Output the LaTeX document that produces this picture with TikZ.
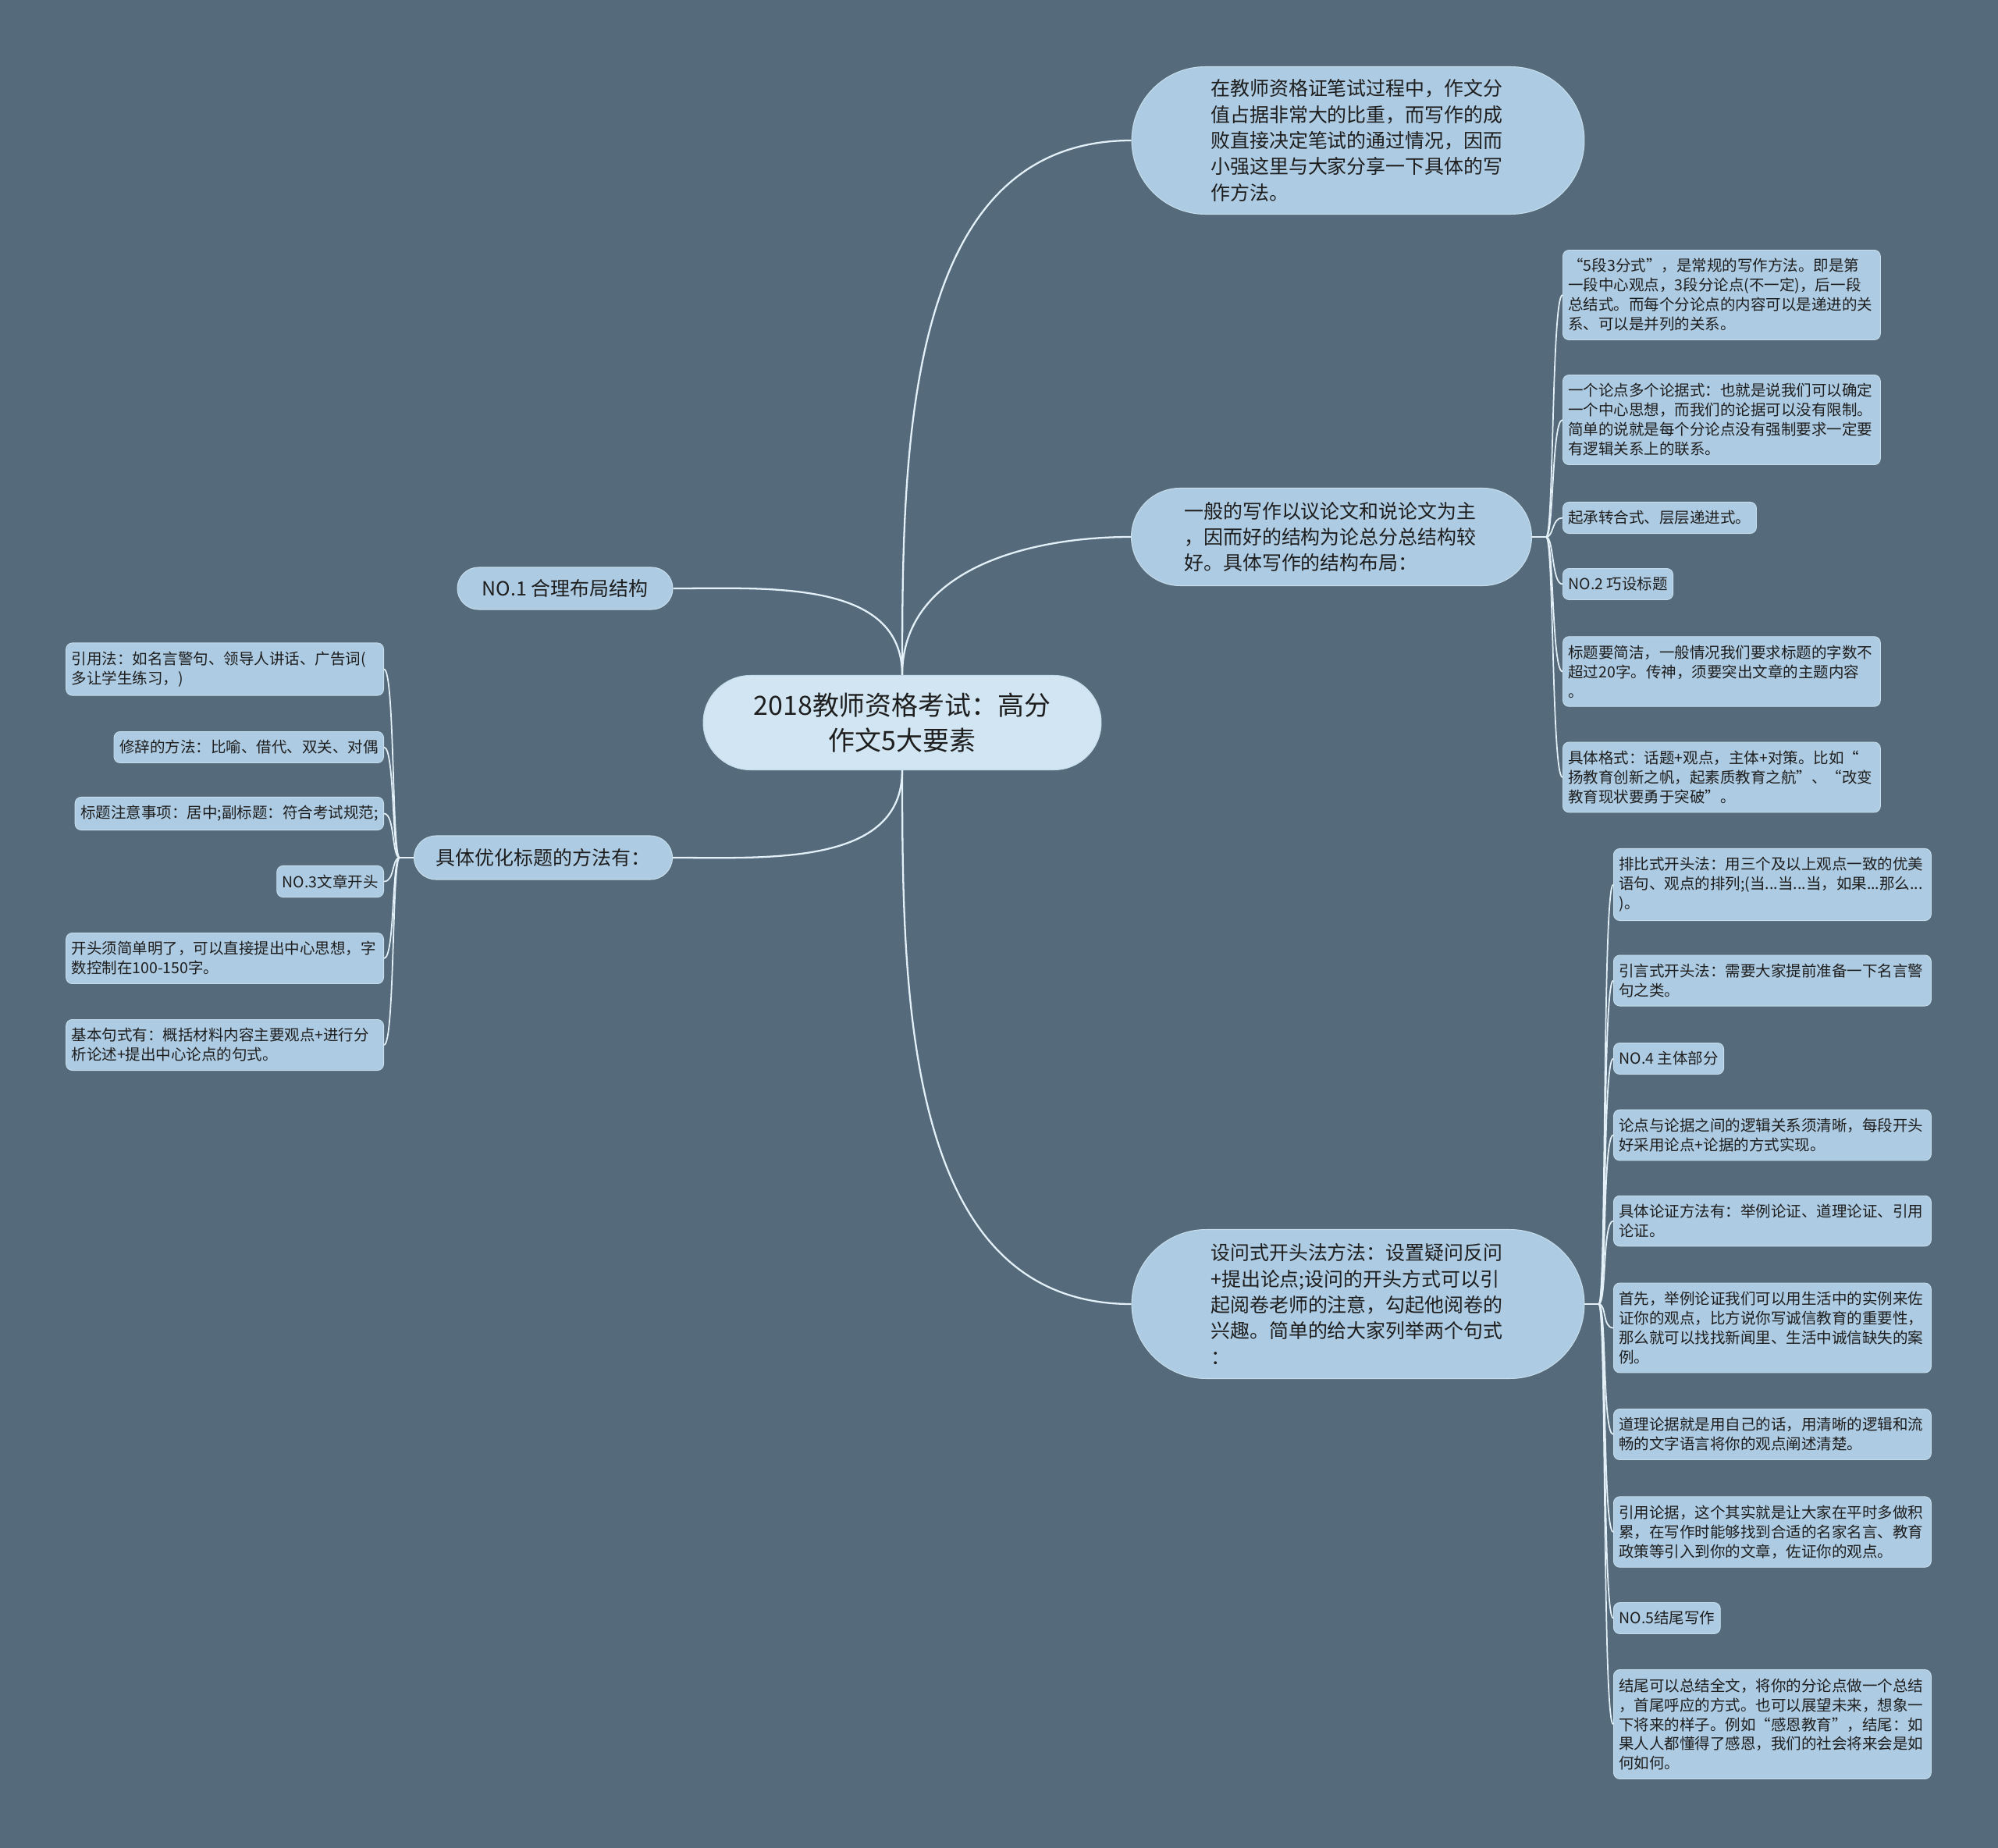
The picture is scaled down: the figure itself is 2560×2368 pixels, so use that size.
\documentclass[tikz,border=0pt]{standalone}
\usepackage{fontspec}
\setmainfont{Noto Sans CJK SC}
\usepackage{tikz}
\usetikzlibrary{shapes.misc}
\definecolor{slate}    {HTML}{556B7B}
\definecolor{rootfill} {HTML}{D1E6F2}
\definecolor{topicfill}{HTML}{ADCBE2}
\definecolor{rim}      {HTML}{C6DDEC}
\definecolor{wire}     {HTML}{E3F0F8}
\definecolor{ink}      {HTML}{1E1E1E}
\tikzset{
  rootbox/.style  ={rounded rectangle, draw=rim, fill=rootfill, line width=0.6pt,
                    text=ink, align=center, inner xsep=0pt,
                    font=\fontsize{19.3pt}{25.9pt}\selectfont,
                    minimum width=10.2cm, minimum height=2.42cm},
  topicbox/.style ={rounded rectangle, draw=rim, fill=topicfill, line width=0.6pt,
                    text=ink, inner xsep=0pt,
                    font=\fontsize{14.2pt}{19pt}\selectfont},
  leafbox/.style  ={draw=rim, fill=topicfill, line width=0.5pt, rounded corners=0.16cm,
                    text=ink, inner xsep=0.14cm, inner ysep=0.22cm,
                    font=\fontsize{11.1pt}{14.2pt}\selectfont},
  wideleaf/.style ={leafbox, text width=7.86cm, align=left},
  branch/.style   ={draw=wire, line width=1.3pt},
  twig/.style     ={draw=wire, line width=1pt},
}
\begin{document}
\begin{tikzpicture}[x=0.02cm,y=0.02cm]
    \useasboundingbox (0,0) rectangle (2560,-2368);
    \fill[slate] (0,0) rectangle (2560,-2368);

    \node[rootbox] (root) at (1156,-926)
      {2018教师资格考试：高分\\作文5大要素};

    \node[topicbox, text width=7.55cm, align=left,
          minimum width=11.6cm, minimum height=3.78cm] (intro) at (1740,-180)
      {在教师资格证笔试过程中，作文分\\值占据非常大的比重，而写作的成\\败直接决定笔试的通过情况，因而\\小强这里与大家分享一下具体的写\\作方法。};
    \node[topicbox, text width=7.55cm, align=left,
          minimum width=10.26cm, minimum height=2.5cm] (layout) at (1706,-688)
      {一般的写作以议论文和说论文为主\\，因而好的结构为论总分总结构较\\好。具体写作的结构布局：};
    \node[topicbox, text width=7.55cm, align=left,
          minimum width=11.6cm, minimum height=3.82cm] (opening) at (1740,-1671)
      {设问式开头法方法：设置疑问反问\\+提出论点;设问的开头方式可以引\\起阅卷老师的注意，勾起他阅卷的\\兴趣。简单的给大家列举两个句式\\：};
    \node[topicbox, minimum width=5.52cm, minimum height=1.08cm] (structure) at (724,-754)
      {NO.1 合理布局结构};
    \node[topicbox, minimum width=6.62cm, minimum height=1.12cm] (titling) at (696,-1099)
      {具体优化标题的方法有：};

    \node[wideleaf, anchor=west] (lay1) at (2002,-378)
      {“5段3分式”，是常规的写作方法。即是第\\一段中心观点，3段分论点(不一定)，后一段\\总结式。而每个分论点的内容可以是递进的关\\系、可以是并列的关系。};
    \node[wideleaf, anchor=west] (lay2) at (2002,-538)
      {一个论点多个论据式：也就是说我们可以确定\\一个中心思想，而我们的论据可以没有限制。\\简单的说就是每个分论点没有强制要求一定要\\有逻辑关系上的联系。};
    \node[leafbox, anchor=west] (lay3) at (2002,-663.5)
      {起承转合式、层层递进式。};
    \node[leafbox, anchor=west] (lay4) at (2002,-748.5)
      {NO.2 巧设标题};
    \node[wideleaf, anchor=west] (lay5) at (2002,-860.5)
      {标题要简洁，一般情况我们要求标题的字数不\\超过20字。传神，须要突出文章的主题内容\\。};
    \node[wideleaf, anchor=west] (lay6) at (2002,-996)
      {具体格式：话题+观点，主体+对策。比如“\\扬教育创新之帆，起素质教育之航”、“改变\\教育现状要勇于突破”。};

    \node[wideleaf, anchor=west] (open1) at (2067,-1133.5)
      {排比式开头法：用三个及以上观点一致的优美\\语句、观点的排列;(当...当...当，如果...那么...\\)。};
    \node[wideleaf, anchor=west] (open2) at (2067,-1256.5)
      {引言式开头法：需要大家提前准备一下名言警\\句之类。};
    \node[leafbox, anchor=west] (open3) at (2067,-1356.5)
      {NO.4 主体部分};
    \node[wideleaf, anchor=west] (open4) at (2067,-1454.5)
      {论点与论据之间的逻辑关系须清晰，每段开头\\好采用论点+论据的方式实现。};
    \node[wideleaf, anchor=west] (open5) at (2067,-1564.5)
      {具体论证方法有：举例论证、道理论证、引用\\论证。};
    \node[wideleaf, anchor=west] (open6) at (2067,-1701.5)
      {首先，举例论证我们可以用生活中的实例来佐\\证你的观点，比方说你写诚信教育的重要性，\\那么就可以找找新闻里、生活中诚信缺失的案\\例。};
    \node[wideleaf, anchor=west] (open7) at (2067,-1838)
      {道理论据就是用自己的话，用清晰的逻辑和流\\畅的文字语言将你的观点阐述清楚。};
    \node[wideleaf, anchor=west] (open8) at (2067,-1963)
      {引用论据，这个其实就是让大家在平时多做积\\累，在写作时能够找到合适的名家名言、教育\\政策等引入到你的文章，佐证你的观点。};
    \node[leafbox, anchor=west] (open9) at (2067,-2073.5)
      {NO.5结尾写作};
    \node[wideleaf, anchor=west] (open10) at (2067,-2209.5)
      {结尾可以总结全文，将你的分论点做一个总结\\，首尾呼应的方式。也可以展望未来，想象一\\下将来的样子。例如“感恩教育”，结尾：如\\果人人都懂得了感恩，我们的社会将来会是如\\何如何。};

    \node[wideleaf, anchor=east] (tit1) at (492,-857.5)
      {引用法：如名言警句、领导人讲话、广告词(\\多让学生练习，)};
    \node[leafbox, anchor=east] (tit2) at (492,-957.5)
      {修辞的方法：比喻、借代、双关、对偶};
    \node[leafbox, anchor=east] (tit3) at (492,-1042.5)
      {标题注意事项：居中;副标题：符合考试规范;};
    \node[leafbox, anchor=east] (tit4) at (492,-1129.5)
      {NO.3文章开头};
    \node[wideleaf, anchor=east] (tit5) at (492,-1228)
      {开头须简单明了，可以直接提出中心思想，字\\数控制在100-150字。};
    \node[wideleaf, anchor=east] (tit6) at (492,-1339)
      {基本句式有：概括材料内容主要观点+进行分\\析论述+提出中心论点的句式。};

    \draw[branch] (root.north) to[out=90,in=180] (intro.west);
    \draw[branch] (root.north) to[out=90,in=180] (layout.west);
    \draw[branch] (root.north) to[out=90,in=0] (structure.east);
    \draw[branch] (root.south) to[out=-90,in=180] (opening.west);
    \draw[branch] (root.south) to[out=-90,in=0] (titling.east);

    \draw[twig] (layout.east) -- ++(18,0) .. controls +(10,0) and +(-14,0) .. (lay1.west);
    \draw[twig] (layout.east) -- ++(18,0) .. controls +(10,0) and +(-14,0) .. (lay2.west);
    \draw[twig] (layout.east) -- ++(18,0) .. controls +(10,0) and +(-14,0) .. (lay3.west);
    \draw[twig] (layout.east) -- ++(18,0) .. controls +(10,0) and +(-14,0) .. (lay4.west);
    \draw[twig] (layout.east) -- ++(18,0) .. controls +(10,0) and +(-14,0) .. (lay5.west);
    \draw[twig] (layout.east) -- ++(18,0) .. controls +(10,0) and +(-14,0) .. (lay6.west);

    \draw[twig] (opening.east) -- ++(18,0) .. controls +(10,0) and +(-14,0) .. (open1.west);
    \draw[twig] (opening.east) -- ++(18,0) .. controls +(10,0) and +(-14,0) .. (open2.west);
    \draw[twig] (opening.east) -- ++(18,0) .. controls +(10,0) and +(-14,0) .. (open3.west);
    \draw[twig] (opening.east) -- ++(18,0) .. controls +(10,0) and +(-14,0) .. (open4.west);
    \draw[twig] (opening.east) -- ++(18,0) .. controls +(10,0) and +(-14,0) .. (open5.west);
    \draw[twig] (opening.east) -- ++(18,0) .. controls +(10,0) and +(-14,0) .. (open6.west);
    \draw[twig] (opening.east) -- ++(18,0) .. controls +(10,0) and +(-14,0) .. (open7.west);
    \draw[twig] (opening.east) -- ++(18,0) .. controls +(10,0) and +(-14,0) .. (open8.west);
    \draw[twig] (opening.east) -- ++(18,0) .. controls +(10,0) and +(-14,0) .. (open9.west);
    \draw[twig] (opening.east) -- ++(18,0) .. controls +(10,0) and +(-14,0) .. (open10.west);

    \draw[twig] (titling.west) -- ++(-18,0) .. controls +(-10,0) and +(14,0) .. (tit1.east);
    \draw[twig] (titling.west) -- ++(-18,0) .. controls +(-10,0) and +(14,0) .. (tit2.east);
    \draw[twig] (titling.west) -- ++(-18,0) .. controls +(-10,0) and +(14,0) .. (tit3.east);
    \draw[twig] (titling.west) -- ++(-18,0) .. controls +(-10,0) and +(14,0) .. (tit4.east);
    \draw[twig] (titling.west) -- ++(-18,0) .. controls +(-10,0) and +(14,0) .. (tit5.east);
    \draw[twig] (titling.west) -- ++(-18,0) .. controls +(-10,0) and +(14,0) .. (tit6.east);
  \end{tikzpicture}
\end{document}
